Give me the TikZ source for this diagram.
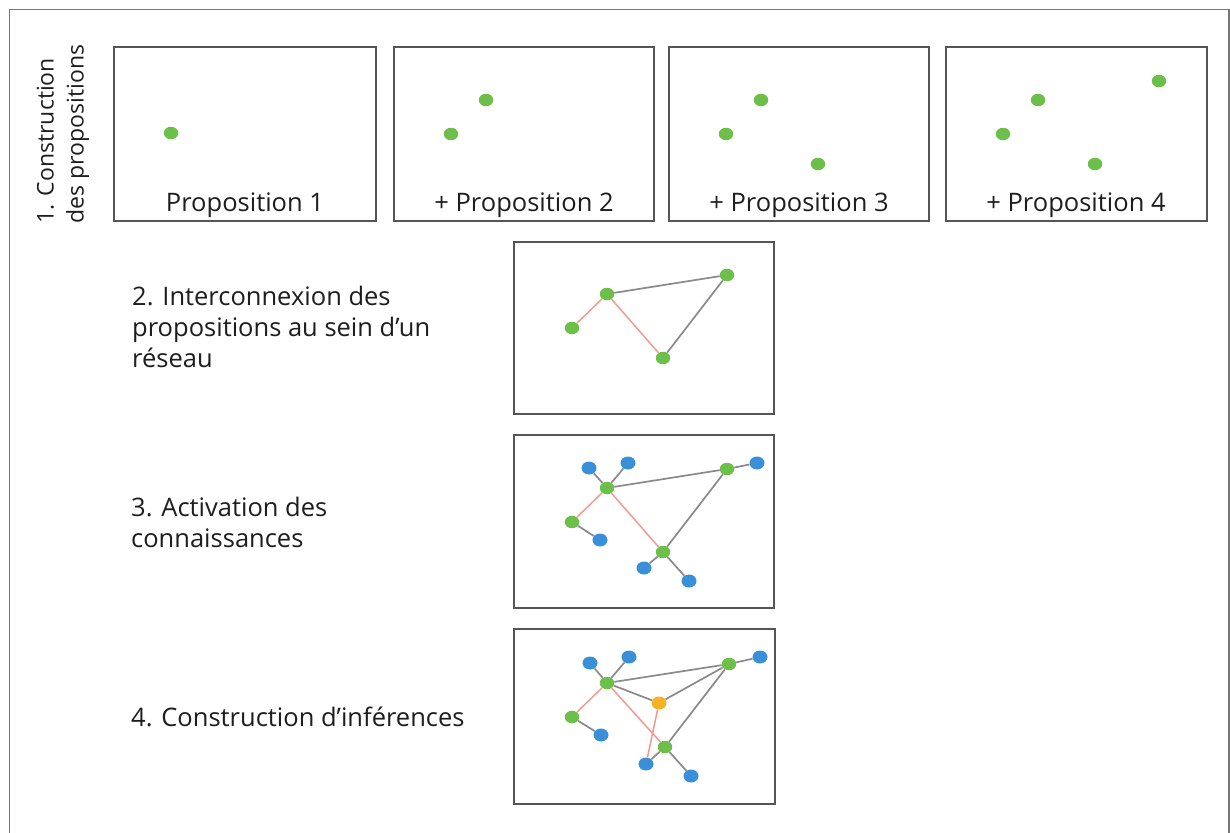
\documentclass[tikz,border=0pt]{standalone}
\usepackage{fontspec}
\setmainfont{Open Sans}
\usetikzlibrary{shapes.geometric}
\definecolor{dotgreen}{HTML}{6CC04A}
\definecolor{dotblue}{HTML}{3A90D8}
\definecolor{dotorange}{HTML}{F5B324}
\definecolor{edgered}{HTML}{F29A90}
\definecolor{edgegray}{HTML}{8A8A8A}
\definecolor{framegray}{HTML}{555555}
\definecolor{textgray}{HTML}{1E1E1E}
\begin{document}
\begin{tikzpicture}[x=1pt,y=-1pt,
  panel/.style={draw=framegray, line width=1.6pt},
  gdot/.style={ellipse, fill=dotgreen, minimum width=14.5pt, minimum height=12.5pt, inner sep=0pt},
  bdot/.style={ellipse, fill=dotblue, minimum width=15pt, minimum height=13pt, inner sep=0pt},
  odot/.style={ellipse, fill=dotorange, minimum width=15pt, minimum height=13pt, inner sep=0pt},
  link/.style={draw=edgegray, line width=1.7pt},
  redlink/.style={draw=edgered, line width=1.5pt},
  caption/.style={font=\fontsize{25.5}{31}\selectfont, text=textgray, inner sep=0pt},
  steplabel/.style={caption, align=left, anchor=base west}
]
\useasboundingbox (0,0) rectangle (1230,832);
\fill[white] (0,0) rectangle (1230,832);

% outer frame, open at the bottom
\draw[draw=framegray!80, line width=1.8pt] (9.5,840) -- (9.5,9.5) -- (1229,9.5) -- (1229,840);

% stage 1: construction of propositions
\node[caption, font=\fontsize{23}{30}\selectfont, rotate=90, align=left] (stage1) at (63,134) {1. Construction\\des propositions};

\draw[panel] (114,47) rectangle (376,221);
\draw[panel] (394,47) rectangle (654,221);
\draw[panel] (669,47) rectangle (929,221);
\draw[panel] (946,47) rectangle (1207,221);

\node[caption, anchor=base] (lp1) at (245,211) {Proposition 1};
\node[caption, anchor=base] (lp2) at (524,211) {+ Proposition 2};
\node[caption, anchor=base] (lp3) at (799,211) {+ Proposition 3};
\node[caption, anchor=base] (lp4) at (1076,211) {+ Proposition 4};

\node[gdot] (p1a) at (171,133) {};

\node[gdot] (p2a) at (451,134) {};
\node[gdot] (p2b) at (486,100) {};

\node[gdot] (p3a) at (726,134) {};
\node[gdot] (p3b) at (761,100) {};
\node[gdot] (p3c) at (818,164) {};

\node[gdot] (p4a) at (1003,134) {};
\node[gdot] (p4b) at (1038,100) {};
\node[gdot] (p4c) at (1095,164) {};
\node[gdot] (p4d) at (1159,81) {};

% stage 2: interconnection (base anchor = last line)
\node[steplabel] (stage2) at (132,367) {2. Interconnexion des\\propositions au sein d’un\\réseau};
\draw[panel] (514,242) rectangle (774,414);
\node[gdot] (a1) at (572,328) {};
\node[gdot] (a2) at (607,294) {};
\node[gdot] (a3) at (663,358) {};
\node[gdot] (a4) at (727,275) {};
\draw[redlink] (a1) -- (a2);
\draw[redlink] (a2) -- (a3);
\draw[link] (a2) -- (a4);
\draw[link] (a4) -- (a3);

% stage 3: activation of knowledge
\node[steplabel] (stage3) at (131,547) {3. Activation des\\connaissances};
\draw[panel] (514,435) rectangle (774,608);
\node[gdot] (b1) at (572,522) {};
\node[gdot] (b2) at (607,488) {};
\node[gdot] (b3) at (663,552) {};
\node[gdot] (b4) at (727,469) {};
\node[bdot] (k1) at (589,468) {};
\node[bdot] (k2) at (628,463) {};
\node[bdot] (k3) at (757,463) {};
\node[bdot] (k4) at (600,540) {};
\node[bdot] (k5) at (644,568) {};
\node[bdot] (k6) at (689,581) {};
\draw[redlink] (b1) -- (b2);
\draw[redlink] (b2) -- (b3);
\draw[link] (b2) -- (b4);
\draw[link] (b4) -- (b3);
\draw[link] (k1) -- (b2);
\draw[link] (k2) -- (b2);
\draw[link] (b4) -- (k3);
\draw[link] (b1) -- (k4);
\draw[link] (b3) -- (k5);
\draw[link] (b3) -- (k6);

% stage 4: inferences
\node[steplabel] (stage4) at (131,726) {4. Construction d’inférences};
\draw[panel] (514,629) rectangle (775,804);
\node[gdot] (c1) at (572,717) {};
\node[gdot] (c2) at (607,683) {};
\node[gdot] (c3) at (665,747) {};
\node[gdot] (c4) at (729,664) {};
\node[odot] (inf) at (659,703) {};
\node[bdot] (m1) at (590,663) {};
\node[bdot] (m2) at (629,657) {};
\node[bdot] (m3) at (760,657) {};
\node[bdot] (m4) at (601,735) {};
\node[bdot] (m5) at (646,764) {};
\node[bdot] (m6) at (691,776) {};
\draw[redlink] (c1) -- (c2);
\draw[redlink] (c2) -- (c3);
\draw[link] (c2) -- (c4);
\draw[link] (c4) -- (c3);
\draw[link] (c2) -- (inf);
\draw[link] (inf) -- (c4);
\draw[redlink] (inf) -- (m5);
\draw[link] (m1) -- (c2);
\draw[link] (m2) -- (c2);
\draw[link] (c4) -- (m3);
\draw[link] (c1) -- (m4);
\draw[link] (c3) -- (m5);
\draw[link] (c3) -- (m6);
\end{tikzpicture}
\end{document}
